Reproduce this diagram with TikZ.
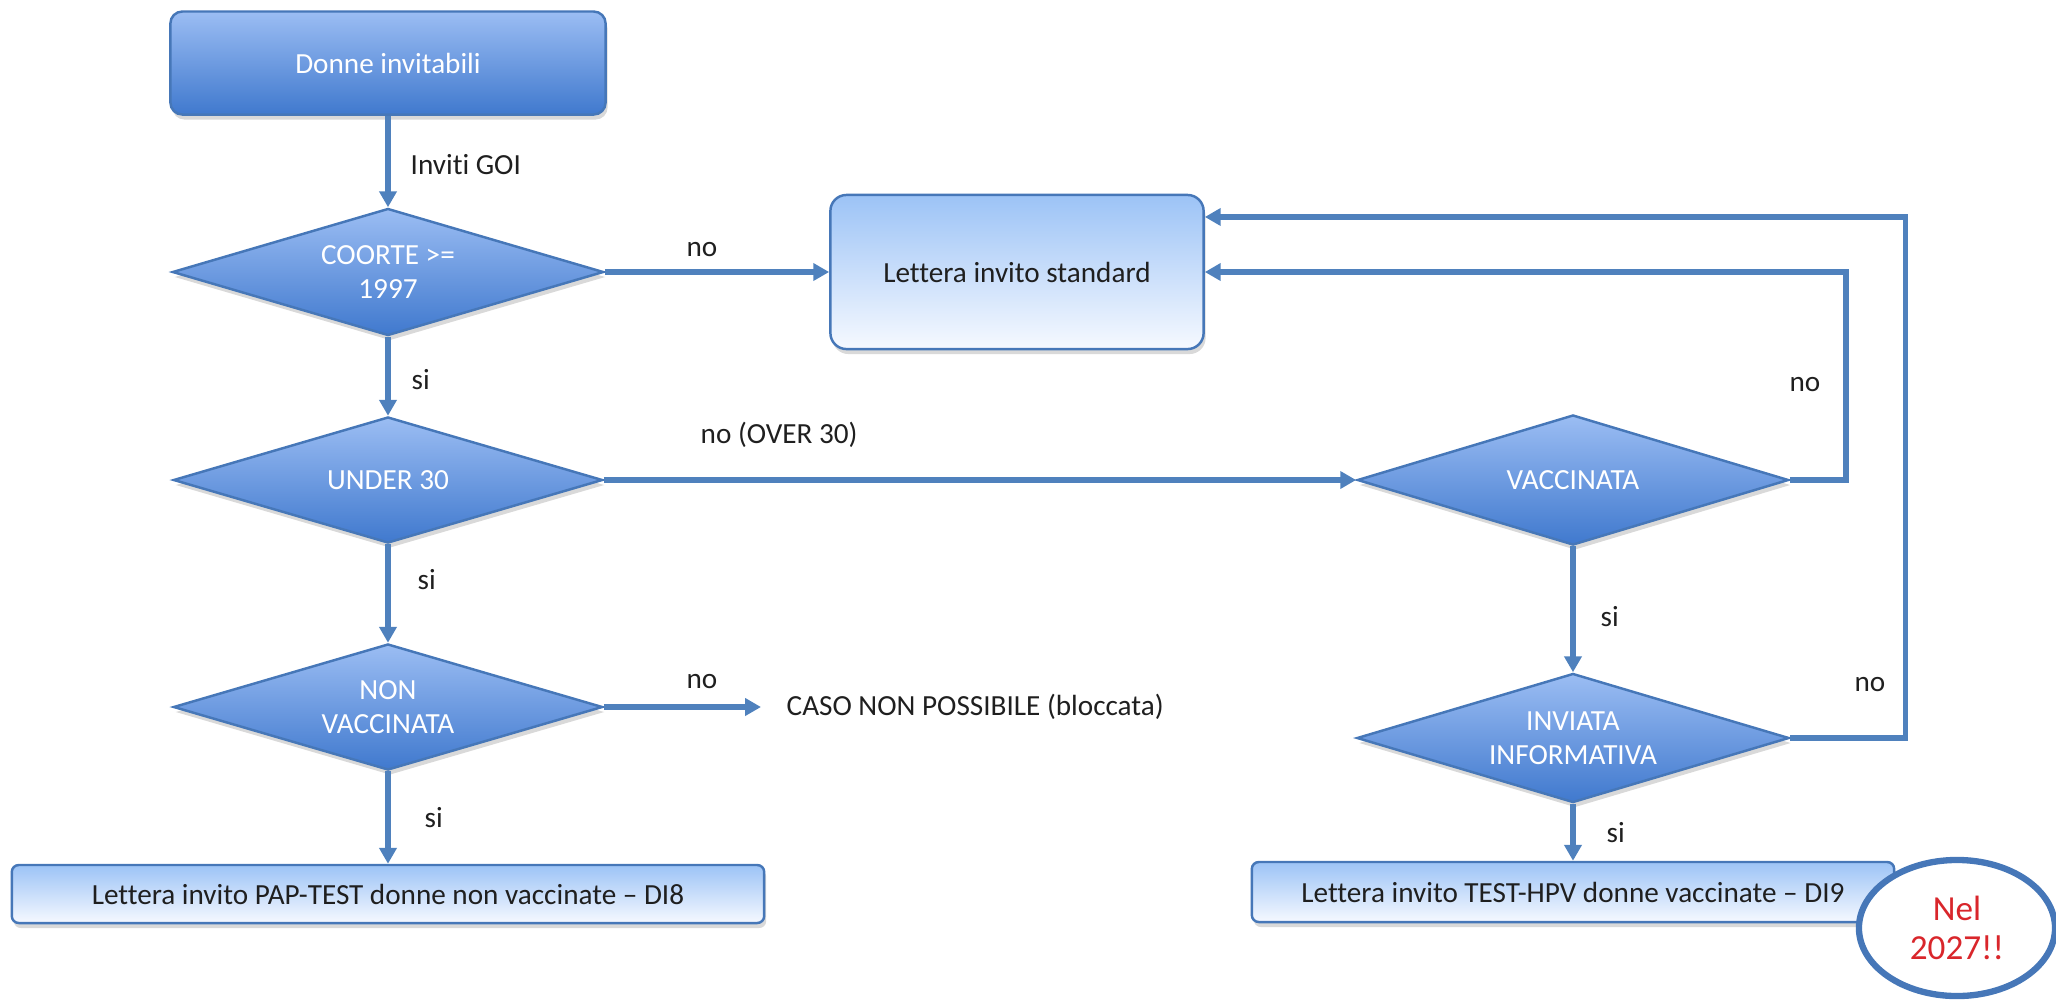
\documentclass[tikz,border=0pt]{standalone}
\usepackage{fontspec}
\setmainfont[Ligatures={TeX,NoCommon}]{Carlito}
\usetikzlibrary{arrows.meta,shapes.geometric,shadows,positioning}

\definecolor{flowblue}{HTML}{4F81BD}
\definecolor{edgeblue}{HTML}{4677B8}
\definecolor{darktop}{HTML}{9BBDF3}
\definecolor{darkbot}{HTML}{4079CE}
\definecolor{lighttop}{HTML}{9CC3F6}
\definecolor{lightbot}{HTML}{F6F9FF}
\definecolor{textdark}{HTML}{1F1F1F}
\definecolor{nelred}{HTML}{D9262B}

\begin{document}
\begin{tikzpicture}[x=0.01cm,y=-0.01cm,
  font=\fontsize{8.3}{9.8}\selectfont,
  darkbox/.style={draw=edgeblue,line width=0.7pt,rounded corners=0.12cm,
    top color=darktop,bottom color=darkbot,text=white,
    drop shadow={opacity=0.3,shadow xshift=0.02cm,shadow yshift=-0.05cm}},
  decision/.style={diamond,aspect=3,inner sep=0pt,align=center,draw=edgeblue,line width=0.7pt,
    top color=darktop,bottom color=darkbot,text=white,
    drop shadow={opacity=0.3,shadow xshift=0.02cm,shadow yshift=-0.05cm}},
  lightbox/.style={draw=edgeblue,line width=0.7pt,rounded corners=0.07cm,
    top color=lighttop,bottom color=lightbot,text=textdark,
    drop shadow={opacity=0.3,shadow xshift=0.02cm,shadow yshift=-0.05cm}},
  flow/.style={draw=flowblue,line width=1.5pt,-{Triangle[length=4.5pt,width=4.8pt]}},
  lbl/.style={text=textdark,inner sep=0pt}]

 \useasboundingbox (0,0) rectangle (2056,999);

 % left column
 \node[darkbox,minimum width=4.35cm,minimum height=1.03cm] (start) at (388,63) {Donne invitabili};
 \node[decision,minimum width=4.31cm,minimum height=1.27cm] (coorte) at (388,272) {COORTE >=\\1997};
 \node[decision,minimum width=4.29cm,minimum height=1.26cm] (under) at (388,480) {UNDER 30};
 \node[decision,minimum width=4.29cm,minimum height=1.26cm] (nonvacc) at (388,707) {NON\\VACCINATA};
 \node[lightbox,minimum width=7.52cm,minimum height=0.58cm] (pap) at (388,894) {Lettera invito PAP-TEST donne non vaccinate -- DI8};
 \node[lbl,anchor=west,inner xsep=0.25cm] (caso) at (761,707) {CASO NON POSSIBILE (bloccata)};

 % right column
 \node[lightbox,minimum width=3.73cm,minimum height=1.54cm,rounded corners=0.16cm] (standard) at (1017,272) {Lettera invito standard};
 \node[decision,minimum width=4.31cm,minimum height=1.30cm] (vacc) at (1573,480) {VACCINATA};
 \node[decision,minimum width=4.32cm,minimum height=1.29cm] (inviata) at (1573,738) {INVIATA\\INFORMATIVA};
 \node[lightbox,minimum width=6.42cm,minimum height=0.60cm] (hpv) at (1573,892) {Lettera invito TEST-HPV donne vaccinate -- DI9};

 % arrows
 \draw[flow] (start) -- (coorte);
 \draw[flow] (coorte) -- (standard);
 \draw[flow] (coorte) -- (under);
 \draw[flow] (under) -- (vacc);
 \draw[flow] (under) -- (nonvacc);
 \draw[flow] (nonvacc) -- (caso);
 \draw[flow] (nonvacc) -- (pap);
 \draw[flow] (vacc) -- (inviata);
 \draw[flow] (inviata) -- (hpv);
 \draw[flow] (vacc.east) -- ++(56,0) |- (standard.east);
 \draw[flow] (inviata.east) -- ++(115,0) |- ([yshift=0.55cm]standard.east);

 % labels
 \node[lbl,anchor=west] (goi) at (410,165) {Inviti GOI};
 \node[lbl] (no1) at (702,250) {no};
 \node[lbl,anchor=west] (si1) at (411,380) {si};
 \node[lbl,anchor=west] (over) at (700,435) {no (OVER 30)};
 \node[lbl,anchor=west] (si2) at (417,580) {si};
 \node[lbl] (no2) at (702,682) {no};
 \node[lbl,anchor=west] (si3) at (424,818) {si};
 \node[lbl] (no3) at (1805,385) {no};
 \node[lbl,anchor=west] (si4) at (1600,617) {si};
 \node[lbl] (no4) at (1870,685) {no};
 \node[lbl,anchor=west] (si5) at (1606,833) {si};

 \node[ellipse,draw=edgeblue,line width=1.8pt,fill=white,minimum width=1.96cm,minimum height=1.36cm,
   text=nelred,align=center,font=\fontsize{10}{11.1}\selectfont] (nel) at (1957,928) {Nel\\2027!!};
\end{tikzpicture}
\end{document}
